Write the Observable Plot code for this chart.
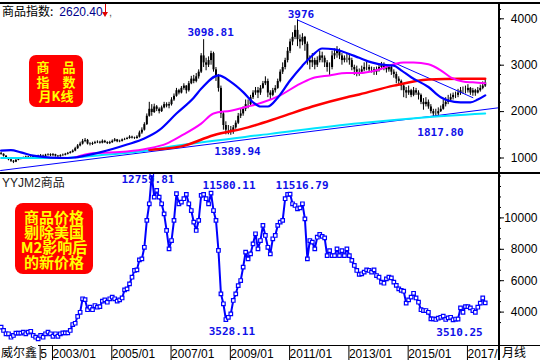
<!DOCTYPE html>
<html><head><meta charset="utf-8">
<script src="https://cdn.jsdelivr.net/npm/d3@7"></script>
<script src="https://cdn.jsdelivr.net/npm/@observablehq/plot@0.6"></script>
<style>
body{margin:0;background:#fff}
#wrap{position:relative;width:540px;height:360px;overflow:hidden;background:#fff;font-family:"Liberation Sans",Arial,sans-serif}
.abs{position:absolute}
.cjk{font-family:"Noto Sans CJK SC","Liberation Sans",sans-serif}
.box{background:#ff0000;color:#ffff00;font-weight:bold;text-align:center;font-family:"Noto Sans CJK SC",sans-serif;white-space:pre}
.ln{background:#000}
</style></head><body>
<div id="wrap">
  <div id="top" class="abs" style="left:0;top:0"></div>
  <div id="bot" class="abs" style="left:0;top:173px"></div>
  <div class="abs ln" style="left:0;top:2px;width:540px;height:2px"></div>
  <div class="abs ln" style="left:0;top:172px;width:540px;height:2px"></div>
  <div class="abs ln" style="left:38px;top:345px;width:502px;height:1px"></div>
  <div class="abs cjk" style="left:502px;top:345px;font-size:12px;line-height:14px;color:#000">月线</div>
  <div class="abs ln" style="left:498px;top:2px;width:2px;height:358px"></div>
  <div class="abs cjk" style="left:2px;top:4px;font-size:12px;line-height:14px;color:#000">商品指数:<span style="font-family:'Liberation Sans',Arial;color:#00008b;margin-left:6px">2620.40</span></div>
  <div class="abs" style="left:105px;top:4px;width:1px;height:9px;background:#e00000"></div>
  <div class="abs" style="left:102px;top:12px;width:0;height:0;border-left:3.5px solid transparent;border-right:3.5px solid transparent;border-top:5px solid #e00000"></div>
  <div class="abs" style="left:109px;top:6px;font-size:11px;color:#555">,</div>
  <div class="abs cjk" style="left:2px;top:175px;font-size:12px;line-height:14px;color:#222"><span style="font-family:'Liberation Sans',Arial">YYJM2</span>商品</div>
  <div class="abs cjk" style="left:1px;top:345px;font-size:12px;line-height:14px;color:#000">威尔鑫</div>
  <div class="abs box" style="left:29px;top:55px;width:54px;height:52px;border-radius:7px;font-size:13px;line-height:14.5px;padding-top:5px;box-sizing:border-box">商　品
指　数
月K线</div>
  <div class="abs box" style="left:15px;top:203px;width:78px;height:71px;border-radius:8px;font-size:15px;line-height:15px;padding-top:6px;box-sizing:border-box">商品价格
剔除美国
M2影响后
的新价格</div>
</div>
<script>
// month index: 0 = 2003/01 ; data runs 2001/05 (-20) .. 2017/09 (176)
const firstMonth = -20;
const topFirstOpen = 1100;
const topClose = [
 1080,1040,990,960,930,910,950,980,
 990,1000,1020,1000,1010,1030,1010,1040,1050,1040,1060,1070,
 1050,1070,1040,1030,1050,1060,1080,1100,1120,1150,1200,1260,
 1300,1360,1380,1300,1290,1310,1330,1340,1320,1360,1330,1310,
 1330,1360,1390,1350,1360,1390,1400,1420,1450,1430,1420,1450,
 1540,1600,1720,1900,2050,1980,2100,2050,2000,2080,2150,2120,
 2150,2250,2330,2450,2400,2500,2550,2450,2600,2700,2650,2750,
 2850,3200,3050,3000,3100,3250,2900,2750,2500,1950,1700,1600,
 1600,1560,1650,1750,1900,1950,2050,2150,2150,2300,2400,2450,
 2400,2500,2600,2650,2400,2350,2450,2500,2650,2850,2950,3100,
 3300,3500,3600,3750,3550,3500,3600,3450,3100,3050,3100,3000,
 3100,3200,3150,3050,2950,2950,3200,3250,3300,3200,3100,3150,
 3150,3100,2950,2900,2850,2850,2900,2950,2950,2900,2900,2850,
 2900,2950,3000,2950,2900,2950,2850,2800,2700,2650,2550,2450,
 2400,2450,2350,2450,2400,2350,2200,2150,2200,2100,2000,1950,
 1950,2000,2050,2150,2200,2250,2300,2350,2350,2400,2450,2450,
 2450,2500,2400,2450,2400,2450,2500,2550,2620];
const topHigh = [
 1120,1090,1050,1000,975,945,965,995,
 1010,1020,1040,1035,1030,1050,1045,1060,1075,1065,1080,1090,
 1090,1095,1080,1055,1070,1085,1100,1120,1140,1175,1230,1290,
 1340,1400,1420,1400,1330,1340,1360,1370,1360,1390,1380,1350,
 1360,1390,1420,1400,1385,1410,1425,1445,1480,1470,1450,1480,
 1580,1650,1760,1950,2200,2150,2160,2130,2080,2120,2200,2190,
 2200,2300,2380,2500,2480,2540,2600,2560,2650,2760,2780,2820,
 2900,3250,3550,3150,3180,3300,3280,2950,2800,2550,2000,1780,
 1700,1680,1700,1800,1960,2050,2100,2250,2250,2350,2450,2520,
 2520,2560,2650,2750,2700,2450,2500,2560,2700,2900,3050,3150,
 3380,3560,3700,3850,3976,3650,3680,3620,3500,3200,3250,3150,
 3180,3300,3280,3200,3100,3050,3300,3350,3400,3350,3250,3200,
 3250,3250,3150,3000,2980,2920,2980,3050,3060,3000,2960,2950,
 2960,3020,3060,3050,2990,3000,2980,2900,2850,2750,2680,2600,
 2520,2550,2480,2520,2500,2450,2380,2280,2300,2250,2150,2050,
 2050,2080,2120,2250,2300,2350,2380,2400,2420,2480,2520,2530,
 2550,2580,2520,2500,2480,2520,2570,2640,2700];
const topLow = [
 1060,1020,975,940,905,880,900,940,
 960,975,985,985,985,995,990,995,1020,1020,1025,1040,
 1030,1035,1020,1010,1015,1035,1045,1065,1085,1105,1135,1185,
 1240,1280,1330,1280,1260,1270,1295,1310,1300,1305,1315,1290,
 1290,1315,1345,1330,1330,1345,1375,1390,1405,1410,1400,1405,
 1430,1510,1580,1700,1880,1900,1960,2000,1950,1980,2060,2080,
 2060,2120,2220,2310,2360,2380,2460,2380,2420,2580,2600,2620,
 2700,2820,2950,2880,2950,3000,2850,2650,2420,1850,1600,1500,
 1500,1490,1510,1620,1720,1850,1900,2000,2060,2120,2260,2350,
 2280,2350,2480,2560,2300,2250,2320,2400,2480,2620,2800,2900,
 3050,3250,3420,3550,3400,3350,3420,3300,3000,2900,2950,2900,
 2950,3050,3050,2950,2850,2780,2900,3120,3150,3120,3000,3050,
 3050,3000,2880,2780,2750,2760,2800,2860,2880,2850,2830,2780,
 2780,2850,2900,2880,2830,2850,2780,2720,2600,2550,2450,2300,
 2280,2350,2300,2320,2350,2250,2150,2030,2100,2050,1950,1890,
 1890,1900,1980,2030,2100,2150,2200,2250,2280,2300,2350,2380,
 2380,2400,2350,2330,2330,2380,2420,2470,2520];

// moving averages (month, value)
const ma12M = [-20,-16,-12,-7,0,7,11,20,31,38,44,51,58,61,68,73,78,82,85,88,92,97,102,106,110,115,119,125,130,136,139,142,146,153,158,161,166,170,173,176];
const ma12V = [1160,1170,1120,1050,1010,1000,1020,1120,1290,1420,1600,1960,2300,2490,2780,2640,2420,2200,2110,2110,2300,2670,2990,3210,3360,3340,3280,3160,3060,3000,2990,2890,2740,2530,2310,2240,2200,2200,2260,2350];
const ma30M = [10,17,31,39,47,53,61,66,73,80,86,93,100,106,113,120,125,132,139,143,147,153,158,162,167,171,176];
const ma30V = [1010,1100,1140,1200,1310,1480,1740,1960,2020,2110,2200,2350,2570,2720,2780,2830,2830,2890,3020,3060,3060,3020,2890,2740,2650,2630,2610];
const ma60M = [40,46,53,66,80,93,106,120,125,139,153,166,176];
const ma60V = [1180,1200,1250,1490,1660,1880,2110,2310,2370,2560,2690,2710,2710];
const maLongM = [-20,4,20,36,53,89,125,150,176];
const maLongV = [1000,1000,1060,1140,1280,1520,1750,1870,1960];
const trendUpM = [-20.2,181.4], trendUpV = [730,2082];
const trendDnM = [100,171], trendDnV = [3976,2300];

const topNoteM = [62,100,73,156];
const topNoteText = ["3098.81","3976","1389.94","1817.80"];
const topNoteAt = ["high","high","low","low"];

// bottom panel: commodity price adjusted for US M2
const adjPrice = [
 3040,2830,2620,2620,2400,2510,2660,2660,
 2660,2720,2620,2720,2780,2510,2400,2290,2510,2400,2620,2720,
 2620,2460,2620,2460,2620,2680,2680,2680,2830,3210,3290,3720,
 3990,4850,4790,4150,4310,4150,4420,4310,4350,4700,4780,4630,
 4850,4950,4850,4700,4780,4900,5420,5480,5800,6220,6650,6690,
 7330,7390,8130,9840,10900,12760,11320,11750,11320,10900,10260,9200,
 8030,8560,9840,11540,10900,11000,11220,11500,10900,10470,9730,9200,
 9840,11430,11500,11220,10900,11580,10470,9840,7925,5165,4530,3528,
 3670,3890,4740,5165,5690,6010,6860,7820,7390,7710,8350,8990,
 8030,8560,9520,8880,8130,7710,8670,8880,9520,9730,9840,11220,
 11500,11516,10900,10790,10580,10640,10900,9940,7390,8560,8460,8030,
 8770,8950,8820,8730,7600,7920,7600,7600,8030,7600,7920,7600,
 8030,7600,7290,6970,6650,6400,6440,6550,6690,6650,6550,6690,
 6330,6220,5910,5840,6120,6220,6180,5910,5700,5480,5380,5330,
 4570,4780,4950,5200,4900,4630,4150,4100,4100,3990,3570,3570,
 3530,3610,3670,3740,3530,3630,3670,3510,3560,3560,4270,3990,
 4350,4350,4270,4100,3990,4310,4570,4900,4590];
const botNoteM = [41,65,97,71,163];
const botNoteText = ["12759.81","11580.11","11516.79","3528.11","3510.25"];

const tickMonths = [-5,0,24,48,72,96,120,144,168];
const tickLabels = ["5","2003/01","2005/01","2007/01","2009/01","2011/01","2013/01","2015/01","2017/"];
const topTicks = [1000,2000,3000,4000];
const botTicks = [4000,6000,8000,10000];

// ---- build tables ----
const candles = topClose.map((c,i)=>({m:firstMonth+i, open: i===0?topFirstOpen:topClose[i-1], close:c, high:topHigh[i], low:topLow[i]}));
const zip = (M,V)=>M.map((m,i)=>({m, v:V[i]}));
const adj = adjPrice.map((v,i)=>({m:firstMonth+i, v}));
const byM = new Map(candles.map(d=>[d.m,d]));
const topNotes = topNoteM.map((m,i)=>({m, v:byM.get(m)[topNoteAt[i]], t:topNoteText[i], k:i}));
const adjByM = new Map(adj.map(d=>[d.m,d.v]));
const botNotes = botNoteM.map((m,i)=>({m, v:adjByM.get(m), t:botNoteText[i], k:i}));
const labelOf = new Map(tickMonths.map((m,i)=>[m,tickLabels[i]]));

const xDomain = [-20.24, 181.38];
const BLUE = "#0000ff";
const noteStyle = {fontFamily:"DejaVu Sans Mono", fontWeight:"bold", fontSize:11, fill:"#1010e8"};
const topDx = [7,3.5,6.7,4.7], topDy = [-7,-5.5,16,16];
const botDx = [-3.8,18,12,6,6.4], botDy = [5,-7.7,-8.7,12,12.7];
const fmt = d3.format("d");

const topMinor = d3.range(800, 4400, 200);
const botMinor = d3.range(-1, 14).map(k => 4000 + k*2000/3);
const baseStyle = {background:"transparent", fontFamily:"Liberation Sans, Arial, sans-serif", fontSize:"12px", overflow:"visible"};

const topSvg = Plot.plot({
  width: 540, height: 173,
  marginLeft: 0, marginRight: 42, marginTop: 0, marginBottom: 0,
  style: baseStyle,
  x: {domain: xDomain, range: [0, 498], axis: null, label: null},
  y: {domain: [1000, 4000], range: [157.5, 18.3], label: null},
  marks: [
    Plot.axisY({anchor:"right", ticks: topMinor, tickSize: 2, tickFormat: () => "", label: null}),
    Plot.axisY({anchor:"right", ticks: topTicks, tickSize: 5, tickPadding: 34, textAnchor: "end", fontSize: 12, fill:"#000", tickFormat: fmt, label: null}),
    Plot.ruleX(candles, {x:"m", y1:"low", y2:"high", stroke:"#000", strokeWidth:1}),
    Plot.ruleX(candles, {x:"m", y1:"open", y2:"close", stroke:"#000", strokeWidth:2}),
    Plot.line(zip(trendUpM, trendUpV), {x:"m", y:"v", stroke: BLUE, strokeWidth: 1}),
    Plot.line(zip(trendDnM, trendDnV), {x:"m", y:"v", stroke: BLUE, strokeWidth: 1}),
    Plot.line(zip(maLongM, maLongV), {x:"m", y:"v", stroke:"#00e5ff", strokeWidth: 2, curve:"monotone-x"}),
    Plot.line(zip(ma60M, ma60V), {x:"m", y:"v", stroke:"#ff0000", strokeWidth: 2.5, curve:"monotone-x"}),
    Plot.line(zip(ma30M, ma30V), {x:"m", y:"v", stroke:"#ff00ff", strokeWidth: 2, curve:"monotone-x"}),
    Plot.line(zip(ma12M, ma12V), {x:"m", y:"v", stroke: BLUE, strokeWidth: 2.2, curve:"monotone-x"}),
    ...topNotes.map(d => Plot.text([d], {x:"m", y:"v", text:"t", dx: topDx[d.k], dy: topDy[d.k], ...noteStyle}))
  ]
});
document.getElementById("top").appendChild(topSvg);

const botSvg = Plot.plot({
  width: 540, height: 187,
  marginLeft: 0, marginRight: 42, marginTop: 0, marginBottom: 15,
  style: baseStyle,
  x: {domain: xDomain, range: [0, 498], label: null},
  y: {domain: [4000, 10000], range: [138.6, 44.4], label: null},
  marks: [
    Plot.axisY({anchor:"right", ticks: botMinor, tickSize: 2, tickFormat: () => "", label: null}),
    Plot.axisY({anchor:"right", ticks: botTicks, tickSize: 5, tickPadding: 34, textAnchor: "end", fontSize: 12, fill:"#000", tickFormat: fmt, label: null}),
    Plot.axisX({anchor:"bottom", ticks: tickMonths, tickFormat: d => labelOf.get(d), tickSize: 15, tickPadding: -11, textAnchor:"start", dx: 2, lineAnchor:"top", fontSize: 12, fill:"#000", label: null}),
    Plot.line(adj, {x:"m", y:"v", stroke: BLUE, strokeWidth: 2}),
    Plot.dot(adj, {x:"m", y:"v", symbol:"square", r: 2, fill:"#fff", stroke: BLUE, strokeWidth: 1.2}),
    ...botNotes.map(d => Plot.text([d], {x:"m", y:"v", text:"t", dx: botDx[d.k], dy: botDy[d.k], ...noteStyle}))
  ]
});
document.getElementById("bot").appendChild(botSvg);
</script>
</body></html>
